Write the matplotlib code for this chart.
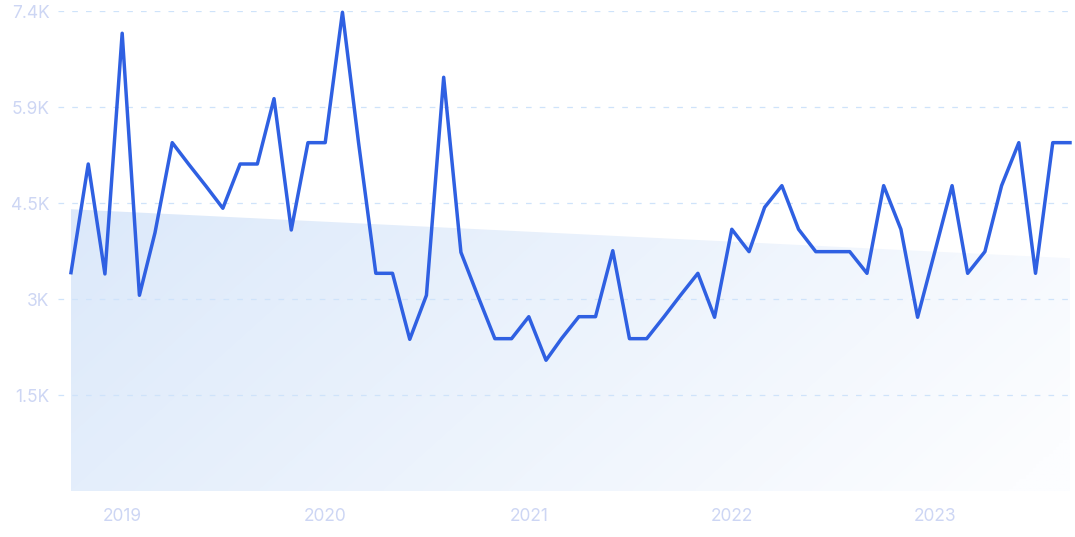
#!/usr/bin/env python3
import numpy as np
import pandas as pd
import matplotlib
matplotlib.use('Agg')
import matplotlib.pyplot as plt
import matplotlib.dates as mdates
from matplotlib.patches import Polygon

# monthly values, Oct 2018 .. Sep 2023
months = pd.date_range('2018-10-01', periods=60, freq='MS')
values = [
	3382, 5063, 3362, 7085, 3032, 4000, 5393, 5055, 4717, 4378,
	5063, 5063, 6074, 4042, 5393, 5393, 7410, 5390, 3372, 3372,
	2351, 3032, 6404, 3697, 3032, 2361, 2361, 2701, 2027, 2364,
	2701, 2701, 3722, 2361, 2361, 2698, 3035, 3372, 2692, 4053,
	3707, 4393, 4728, 4053, 3707, 3707, 3707, 3372, 4728, 4053,
	2692, 3707, 4728, 3372, 3707, 4728, 5393, 3372, 5393, 5393,
]
# trend line (start, end) shown as the shaded area
trend = [4363, 3605]

y_ticks = [1485, 2970, 4455, 5940, 7425]
y_labels = ['1.5K', '3K', '4.5K', '5.9K', '7.4K']
x_years = [2019, 2020, 2021, 2022, 2023]

LINE = '#2f60e2'
LABEL = '#cdd6f4'
GRID = '#cfe3fa'

plt.rcParams['font.family'] = ['Inter', 'DejaVu Sans']

W, H = 1075, 537
fig = plt.figure(figsize=(W / 100, H / 100), dpi=100)
ax = fig.add_axes([58 / W, (H - 491.3) / H, (1072 - 58) / W, (491.3 - 11.3) / H])

x = mdates.date2num(months)
dpp = (x[-1] - x[0]) / (1070 - 71)
ax.set_xlim(x[0] - 13 * dpp, x[-1] + 2 * dpp)
ax.set_ylim(0, y_ticks[-1])

# gradient fill under the trend
poly = Polygon([(x[0], 0), (x[0], trend[0]), (x[-1], trend[1]), (x[-1], 0)],
	closed=True, facecolor='none', edgecolor='none')
ax.add_patch(poly)
nx, ny = 300, 80
u = np.linspace(0, 1, nx)[None, :]
v = np.linspace(1, 0, ny)[:, None]  # 1 at bottom (origin lower)
t = np.clip(0.8 * u + 0.25 * v, 0, 1)
c0 = np.array([220, 233, 250]) / 255
c1 = np.array([252, 253, 255]) / 255
img = c0[None, None, :] + t[..., None] * (c1 - c0)[None, None, :]
im = ax.imshow(img, extent=[x[0], x[-1], 0, max(trend)], origin='lower',
	aspect='auto', zorder=0.2, interpolation='bilinear')
im.set_clip_path(poly)

ax.plot(x, values, color=LINE, lw=2.5, solid_joinstyle='round', clip_on=False, zorder=3)

ax.set_yticks(y_ticks)
ax.set_yticklabels(y_labels)
ax.set_xticks([mdates.date2num(pd.Timestamp(f'{y}-01-01')) for y in x_years])
ax.set_xticklabels([str(y) for y in x_years])
ax.tick_params(axis='both', length=0, labelcolor=LABEL, labelsize=12.5)
ax.tick_params(axis='y', pad=6)
ax.tick_params(axis='x', pad=12)

ax.set_axisbelow(True)
ax.yaxis.grid(True, color=GRID, lw=0.9, linestyle=(0, (4.5, 6.5)))
ax.xaxis.grid(False)
for s in ax.spines.values():
	s.set_visible(False)

fig.savefig('out.png', dpi=100)
